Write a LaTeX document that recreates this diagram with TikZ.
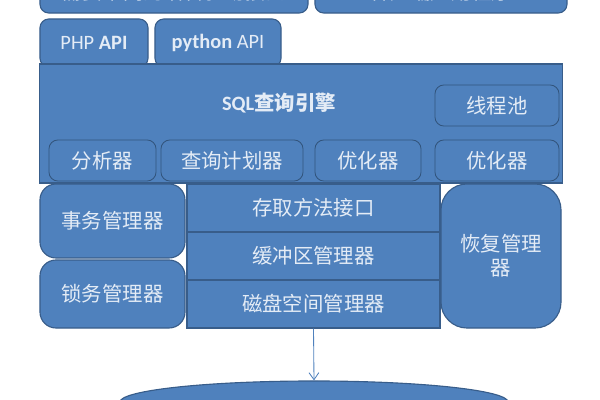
\documentclass[tikz,border=0pt]{standalone}
\usepackage{fontspec}
\setmainfont{Carlito}
\newfontfamily\cjk{Noto Sans CJK SC}
\usetikzlibrary{arrows.meta,shapes.geometric}
\definecolor{boxfill}{HTML}{4F81BD}
\definecolor{boxline}{HTML}{385D8A}
\definecolor{boxtext}{HTML}{E4ECF6}
\begin{document}
\begin{tikzpicture}[x=0.025cm, y=-0.025cm,
  box/.style={draw=boxline, fill=boxfill, line width=0.8pt, rounded corners=0.22cm,
    text=boxtext, font=\fontsize{14.5}{17}\selectfont\cjk, inner sep=0pt, align=center},
  subbox/.style={box, draw=boxline!90!black, line width=0.6pt},
  layer/.style={box, rounded corners=0pt}]
  \useasboundingbox (0,0) rectangle (600,400);
  \clip (0,0) rectangle (600,400);
  % top rows
  \node[box, minimum width=6.7cm, minimum height=1.075cm] (lang) at (174,-8.5) {需要不同的语言驱动接口};
  \node[box, minimum width=6.3cm, minimum height=1.075cm] (client) at (441,-8.5) {客户端应用程序};
  \node[box, font=\fontsize{14.5}{17}\selectfont, minimum width=2.7cm, minimum height=1.2cm] (php) at (94,43) {PHP \textbf{API}};
  \node[box, font=\fontsize{14.5}{17}\selectfont, minimum width=3.15cm, minimum height=1.2cm] (python) at (218,43) {\textbf{python} API};
  % sql engine
  \node[layer, minimum width=13.05cm, minimum height=2.975cm] (sql) at (301,123.5) {};
  \node[text=boxtext, font=\fontsize{14.5}{17}\selectfont] (sqltitle) at (279,103) {\textbf{SQL}{\cjk\bfseries 查询引擎}};
  \node[subbox, minimum width=3.1cm, minimum height=1.025cm] (pool) at (497,105.5) {线程池};
  \node[subbox, minimum width=2.675cm, minimum height=1.025cm] (parser) at (102.5,160.5) {分析器};
  \node[subbox, minimum width=3.55cm, minimum height=1.025cm] (planner) at (232,160.5) {查询计划器};
  \node[subbox, minimum width=2.65cm, minimum height=1.025cm] (opta) at (368,160.5) {优化器};
  \node[subbox, minimum width=3.1cm, minimum height=1.025cm] (optb) at (497,160.5) {优化器};
  % storage
  \node[box, rounded corners=0.4cm, minimum width=3.625cm, minimum height=1.85cm] (txn) at (112.5,221) {事务管理器};
  \node[box, rounded corners=0.4cm, minimum width=3.625cm, minimum height=1.7cm] (lock) at (112.5,294) {锁务管理器};
  \node[layer, minimum width=6.325cm, minimum height=1.2cm] (access) at (313.5,208) {存取方法接口};
  \node[layer, minimum width=6.325cm, minimum height=1.2cm] (buffer) at (313.5,256) {缓冲区管理器};
  \node[layer, minimum width=6.325cm, minimum height=1.2cm] (disk) at (313.5,304) {磁盘空间管理器};
  \node[box, rounded corners=0.65cm, minimum width=3cm, minimum height=3.6cm] (recovery) at (501,256) {恢复管理\\器};
  % database
  \node[box, ellipse, minimum width=9.7cm, minimum height=1.05cm] (db) at (314,402) {};
  \draw[boxfill, line width=0.6pt, -{Straight Barb[length=5pt, width=7pt]}] (disk.south) -- (db.north);
\end{tikzpicture}
\end{document}
